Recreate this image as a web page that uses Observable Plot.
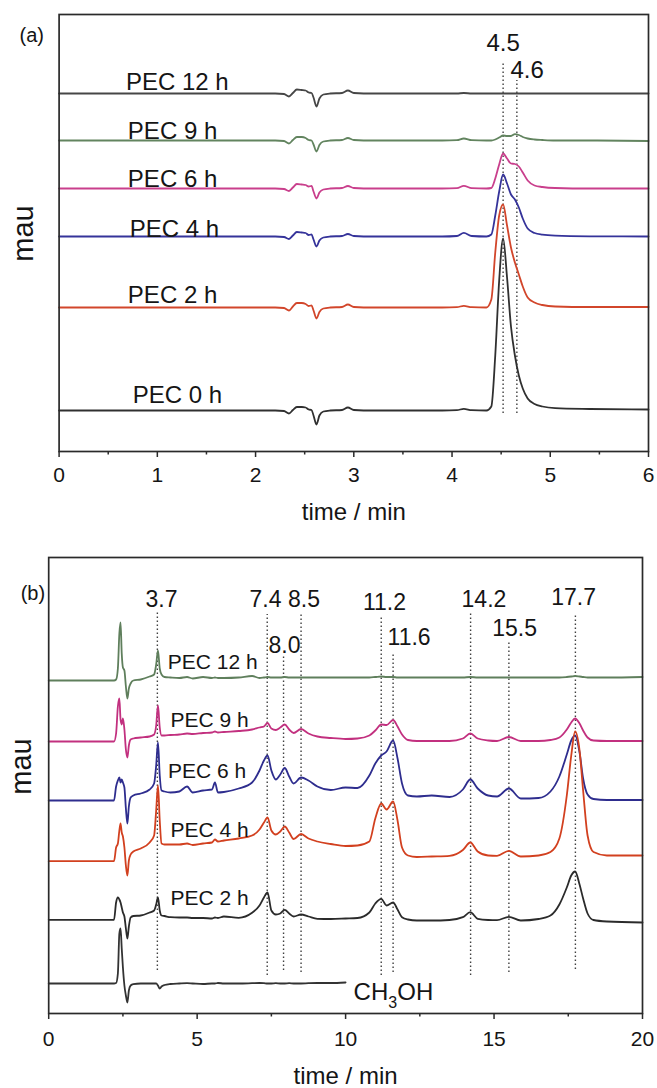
<!DOCTYPE html>
<html><head><meta charset="utf-8">
<script src="https://cdn.jsdelivr.net/npm/d3@7"></script>
<script src="https://cdn.jsdelivr.net/npm/@observablehq/plot@0.6"></script>
<style>
body{margin:0;background:#fff;}
#chart svg{display:block;}
</style></head><body><div id="chart"></div>
<script>
const FONT = "'Liberation Sans', Arial, Helvetica, sans-serif";

// ---------------- Panel (a) data ----------------
const seriesA = ["PEC 12 h", "PEC 9 h", "PEC 6 h", "PEC 4 h", "PEC 2 h", "PEC 0 h"];
const colorsA = ["#464646", "#62845f", "#c93f8c", "#35339a", "#d2462b", "#303030"];
const offsetsA = [358, 311, 263, 215, 144, 41];
const timeA = [0, 2.2, 2.29, 2.34, 2.38, 2.42, 2.47, 2.51, 2.54, 2.57,
  2.59, 2.62, 2.65, 2.69, 2.76, 2.88, 2.94, 3.00, 3.2, 3.9,
  4.05, 4.12, 4.2, 4.35, 4.40, 4.44, 4.48, 4.52, 4.56, 4.60,
  4.64, 4.68, 4.72, 4.77, 4.84, 4.92, 5.05, 5.4, 6.0];
const pec12A = [0, 0, -0.5, -3, 0.5, 4, 3.5, 3, 1, 0.5,
  -4, -13, -5, -1, 0, 0.5, 3, 0.5, 0, 0,
  0, 0.5, 0, 0, 0, 0, 0, 0, 0, 0,
  0, 0, 0, 0, 0, 0, 0, 0, 0];
const pec9A = [0, 0, -0.5, -3, 0.5, 3.5, 3.5, 2.5, 0.5, 0,
  -4, -11, -4.5, -1, 0, 0.5, 2.5, 0.5, 0, 0,
  0.3, 2, 0.3, 0, 0, 1, 3, 5, 4.5, 4.5,
  6.3, 5.5, 3.5, 2, 1, 0.5, 0, 0, -0.5];
const pec6A = [0, 0, -0.5, -2.5, 1, 4.5, 4, 3.5, 2, 2.5,
  -3, -10, -4, -1, 0, 0.5, 2.5, 0.5, 0, 0,
  0.3, 2.7, 0.3, 0, 0.5, 10, 24, 35, 30, 25,
  24.5, 22, 16, 8, 3, 1.5, 0.5, 0, 0];
const pec4A = [0, 0, -0.5, -2.5, 1, 4.5, 4, 3.5, 1.5, 2,
  -3, -10, -4, -1, 0, 0.5, 2.5, 0.5, 0, 0,
  0.5, 3.7, 0.5, 0, 2, 21, 45, 62, 53, 42,
  37, 29, 18, 8, 3.5, 1.8, 0.8, 0.2, 0];
const pec2A = [0, 0, -0.5, -3, 1, 4.5, 4.5, 3.5, 1.5, 2,
  -3, -11, -4.5, -1, 0, 0.5, 3, 0.5, 0, 0,
  0.3, 1.7, 0.3, 0, 8, 55, 92, 103, 82, 60,
  45, 33, 21, 10, 5, 2.5, 1, 0.5, 0.5];
const pec0A = [0, 0, -0.5, -3, 0.5, 3.5, 3.5, 3, 1, 0.5,
  -5, -14, -5, -1, 0, 0.5, 3, 0.5, 0, 0,
  0.3, 1.7, 0.3, 0, 4, 55, 130, 172, 133, 84,
  55, 35, 22, 12, 6.5, 4, 2.3, 1.5, 1];
const valuesA = [pec12A, pec9A, pec6A, pec4A, pec2A, pec0A];
// series label anchors (time, mau)
const labelTA = [0.68, 0.70, 0.70, 0.72, 0.70, 0.75];
const labelVA = [369, 320, 272, 222, 156, 56];
// retention-time markers
const markersA = [4.52, 4.66];
const markerTextA = ["4.5", "4.6"];
const markerTopA = [388, 371];
const markerBottomA = [38, 38];
const markerLabelTA = [4.52, 4.765];
const markerLabelVA = [408, 381];
const ticksA = [0, 1, 2, 3, 4, 5, 6];
const minorTicksA = [0.5, 1.5, 2.5, 3.5, 4.5, 5.5];

// ---------------- Panel (b) data ----------------
const seriesB = ["PEC 12 h", "PEC 9 h", "PEC 6 h", "PEC 4 h", "PEC 2 h", "CH3OH"];
const colorsB = ["#5f7f5c", "#c2307f", "#2e2d8e", "#d2401f", "#2b2b2b", "#333333"];
const offsetsB = [335, 272, 213, 153, 93, 30];
const timeB = [0, 2.2, 2.27, 2.33, 2.38, 2.42, 2.46, 2.5, 2.55, 2.6,
  2.65, 2.7, 2.76, 2.85, 3.1, 3.4, 3.55, 3.62, 3.68, 3.74,
  3.8, 3.9, 4.1, 4.4, 4.66, 4.85, 5.2, 5.5, 5.6, 5.7,
  5.9, 6.4, 6.85, 7.1, 7.25, 7.37, 7.5, 7.65, 7.8, 7.95,
  8.1, 8.25, 8.5, 8.75, 9.05, 9.5, 10.0, 10.4, 10.8, 11.0,
  11.2, 11.38, 11.6, 11.75, 11.9, 12.1, 12.4, 12.9, 13.5, 13.95,
  14.2, 14.45, 14.8, 15.1, 15.5, 15.9, 16.5, 16.9, 17.2, 17.45,
  17.6, 17.73, 17.88, 18.0, 18.15, 18.35, 18.8, 20.0];
const pec12B = [-2, -2, -1, 10, 45, 56, 25, 11, 8, -8,
  -20, -10, -5, -2, -1, 2, 4, 14, 28, 10,
  4, 1.5, 1, 0.5, 1.5, 0, 1.5, 0.5, 1, 0.5,
  0.5, 1, 2.5, 0.5, 1, 1.5, 1, 1, 1, 1.5,
  1, 1, 1, 1, 1, 1, 1, 1, 1, 1.5,
  2, 1.5, 1.5, 1, 1, 1, 1, 1, 1, 1,
  1.5, 1, 1, 1, 1, 1, 1, 1, 1, 1.5,
  2, 2.5, 2, 1.5, 1, 1, 1, 1.5];
const pec9B = [0, 0, 8, 35, 43, 22, 17, 23, 12, -8,
  -16, -4, 2, 3, 4, 5, 7, 16, 36, 14,
  6, 6, 6.5, 7, 8, 7.5, 8.5, 9, 10, 9,
  9.5, 10.5, 12, 14, 15, 18.5, 13, 11.5, 14, 17,
  12, 8.5, 12.5, 8, 5, 3.5, 2.5, 3, 6, 11,
  17, 16.5, 21.5, 15, 7, 1.5, 0.5, 0.5, 0.5, 3,
  8, 3, 1, 0.5, 4.5, 0.5, 0.5, 1.5, 4, 12,
  19, 23, 18, 11, 4, 1, 0.5, 0.5];
const pec6B = [0, 0, 14, 20, 23, 18, 21, 18, 13, -8,
  -23, -6, 3, 5, 7, 11, 17, 35, 58, 25,
  10, 9, 8, 9, 14, 8, 10, 11, 18, 8,
  8.5, 12, 18, 30, 40, 45, 30, 21, 26, 32.5,
  24, 17, 23, 20, 14, 10.5, 13, 12.5, 25, 37,
  45, 49, 60, 42, 17, 5, 4, 5, 3.5, 11,
  21, 12, 5, 4, 12, 2, 2.5, 9, 24, 46,
  60, 65, 48, 22, 6, 1.5, 0.5, 0.5];
const pec4B = [-0.7, -0.7, 13, 17, 30, 37, 28, 24, 13, -5,
  -15, 0, 6, 9, 12, 18, 25, 50, 75, 40,
  17, 16, 16, 16, 17, 15.5, 17, 18, 21, 19,
  20, 22, 25, 31, 38, 43, 30, 26, 29, 34,
  28, 21.5, 26.5, 22, 19, 16.5, 14.5, 15, 19, 42,
  57, 51, 59, 40, 13, 5, 3.5, 4, 4.7, 10.5,
  18, 9, 5, 4.7, 9.7, 4, 5, 8.5, 22, 65,
  105, 129, 110, 70, 25, 8.5, 5, 5];
const pec2B = [0.7, 0.7, 18, 23, 21, 18, 13, 8, 4, -8,
  -18, -6, 3, 4.5, 5, 8, 10, 16, 23, 10,
  5, 4.5, 3.3, 3, 3, 2.5, 2.5, 2, 3, 2.5,
  4, 2.7, 7.7, 15, 23, 28, 10, 6, 7, 10.7,
  7, 4, 6, 4, 1.7, 1.5, 2, 2.5, 8, 17,
  21.7, 15, 18, 11, 3.3, 1, 0, 0, 0.5, 3.3,
  8.3, 1.7, 0.5, 0.3, 3.7, 0, 1.5, 5, 16, 33,
  45, 49, 36, 22, 7, 0.5, -1, -2];
// methanol blank: recorded only up to 10 min
const ch3ohB = [0, 0, 0.5, 10, 50, 55, 35, 16, -2, -12,
  -19, -7, -2, -0.7, 0, 0, 0, 0, -2, -5,
  -3, -1.5, -0.5, 0, 0.3, 0, -0.5, 0, 0, 0.5,
  0, 0, 0.3, 0.5, 0.3, 0, 0, 0.3, 0, 0,
  0.3, 0, 0, 0.3, 0.5, 0.5, 1];
const valuesB = [pec12B, pec9B, pec6B, pec4B, pec2B, ch3ohB];
const labelTB = [4.01, 4.10, 4.02, 4.10, 4.10];
const labelVB = [351, 293, 242, 183, 115];
const markersB = [3.66, 7.36, 7.91, 8.5, 11.2, 11.6, 14.21, 15.5, 17.74];
const markerTextB = ["3.7", "7.4", "8.0", "8.5", "11.2", "11.6", "14.2", "15.5", "17.7"];
const markerTopB = [401, 399, 358, 399, 398, 361, 400, 373, 398];
const markerBottomB = [43, 38, 43, 41, 38, 41, 38, 41, 44];
const markerLabelTB = [3.80, 7.30, 7.94, 8.60, 11.31, 12.14, 14.66, 15.69, 17.68];
const markerLabelVB = [414, 414, 368, 414, 411, 376, 414, 385, 416];
const ticksB = [0, 5, 10, 15, 20];
const minorTicksB = [2.5, 7.5, 12.5, 17.5];

// ---------------- build tables ----------------
function traceRows(names, offsets, times, values) {
  const rows = [];
  names.forEach((name, i) => {
    values[i].forEach((v, j) => rows.push({name, t: times[j], v: offsets[i] + v}));
  });
  return rows;
}
const rowsA = traceRows(seriesA, offsetsA, timeA, valuesA);
const rowsB = traceRows(seriesB, offsetsB, timeB, valuesB);
const markerRowsA = markersA.map((t, i) => ({t, top: markerTopA[i], bottom: markerBottomA[i]}));
const markerRowsB = markersB.map((t, i) => ({t, top: markerTopB[i], bottom: markerBottomB[i]}));
const mLabelsA = markerTextA.map((s, i) => ({s, t: markerLabelTA[i], v: markerLabelVA[i]}));
const mLabelsB = markerTextB.map((s, i) => ({s, t: markerLabelTB[i], v: markerLabelVB[i]}));
const sLabelsA = seriesA.map((s, i) => ({s, t: labelTA[i], v: labelVA[i]}));
const sLabelsB = seriesB.slice(0, 5).map((s, i) => ({s, t: labelTB[i], v: labelVB[i]}));

const AX = "#2a2a2a";
const TXT = "#151515";
const DOT = {stroke: "#404040", strokeWidth: 1.4, strokeDasharray: "1.4,2.6"};
const LW = 1.8;

const plotA = Plot.plot({
  width: 657, height: 540,
  marginTop: 14, marginBottom: 89, marginLeft: 58.6, marginRight: 9,
  style: {fontFamily: FONT, color: TXT, background: "#fff"},
  x: {domain: [0, 6]},
  y: {domain: [0, 437], axis: null},
  color: {domain: seriesA, range: colorsA},
  marks: [
    Plot.ruleX(markerRowsA, {x: "t", y1: "bottom", y2: "top", ...DOT}),
    Plot.line(rowsA, {x: "t", y: "v", z: "name", stroke: "name", strokeWidth: LW, curve: "monotone-x"}),
    Plot.frame({stroke: AX, strokeWidth: 1.7}),
    Plot.axisX(ticksA, {tickSize: 6, tickPadding: 10, fontSize: 21, label: null, stroke: AX, strokeWidth: 1.5}),
    Plot.axisX(minorTicksA, {tickSize: 3.5, tickFormat: () => "", label: null, stroke: AX, strokeWidth: 1.5}),
    Plot.text(["time / min"], {frameAnchor: "bottom", dy: 68, fontSize: 24, fill: TXT}),
    Plot.text(["mau"], {x: () => -0.36, y: () => 218, rotate: -90, fontSize: 29, fill: TXT}),
    Plot.text(["(a)"], {frameAnchor: "top-left", dx: -39.6, dy: 13, textAnchor: "start", fontSize: 20, fill: TXT}),
    Plot.text(sLabelsA, {x: "t", y: "v", text: "s", textAnchor: "start", fontSize: 24, fill: TXT}),
    Plot.text(mLabelsA, {x: "t", y: "v", text: "s", fontSize: 24, fill: TXT})
  ]
});

const plotB = Plot.plot({
  width: 657, height: 548,
  marginTop: 17, marginBottom: 75, marginLeft: 48.2, marginRight: 15,
  style: {fontFamily: FONT, color: TXT, background: "#fff"},
  x: {domain: [0, 20]},
  y: {domain: [0, 456], axis: null},
  color: {domain: seriesB, range: colorsB},
  marks: [
    Plot.ruleX(markerRowsB, {x: "t", y1: "bottom", y2: "top", ...DOT}),
    Plot.line(rowsB, {x: "t", y: "v", z: "name", stroke: "name", strokeWidth: LW, curve: "monotone-x"}),
    Plot.frame({stroke: AX, strokeWidth: 1.7}),
    Plot.axisX(ticksB, {tickSize: 6, tickPadding: 12, fontSize: 21, label: null, stroke: AX, strokeWidth: 1.5}),
    Plot.axisX(minorTicksB, {tickSize: 3.5, tickFormat: () => "", label: null, stroke: AX, strokeWidth: 1.5}),
    Plot.text(["time / min"], {frameAnchor: "bottom", dy: 70, fontSize: 24, fill: TXT}),
    Plot.text(["mau"], {x: () => -0.92, y: () => 247, rotate: -90, fontSize: 29, fill: TXT}),
    Plot.text(["(b)"], {frameAnchor: "top-left", dx: -28, dy: 28, textAnchor: "start", fontSize: 20, fill: TXT}),
    Plot.text(sLabelsB, {x: "t", y: "v", text: "s", textAnchor: "start", fontSize: 21, fill: TXT}),
    Plot.text(mLabelsB, {x: "t", y: "v", text: "s", fontSize: 23, fill: TXT}),
    // CH3OH label with subscript
    Plot.text(["CH"], {x: () => 10.27, y: () => 21, textAnchor: "start", fontSize: 24, fill: TXT}),
    Plot.text(["3"], {x: () => 10.27, y: () => 21, dx: 34.7, dy: 10, textAnchor: "start", fontSize: 16, fill: TXT}),
    Plot.text(["OH"], {x: () => 10.27, y: () => 21, dx: 43.6, textAnchor: "start", fontSize: 24, fill: TXT})
  ]
});

document.getElementById("chart").append(plotA, plotB);
</script>
</body></html>
